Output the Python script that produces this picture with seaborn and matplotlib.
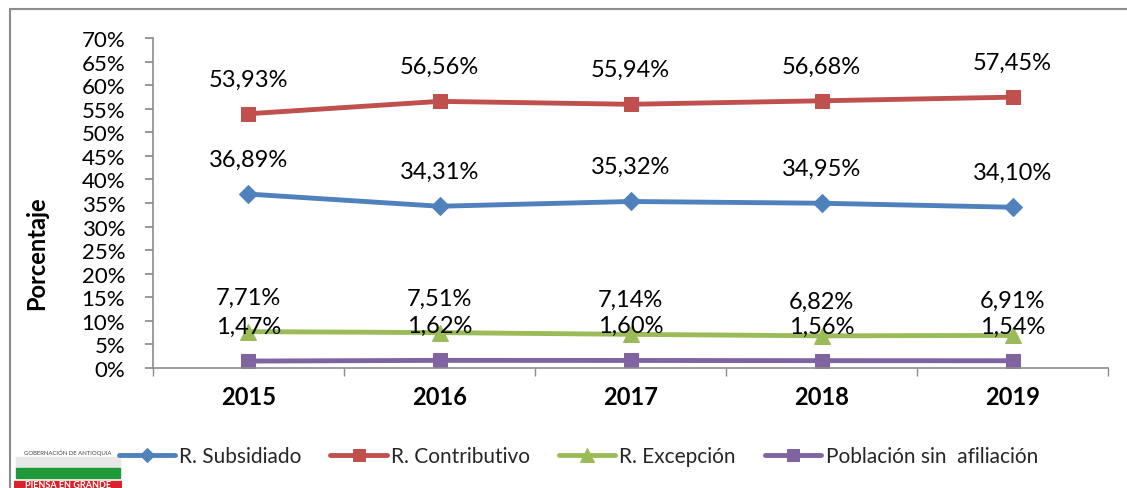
import matplotlib
matplotlib.use("Agg")
import matplotlib.pyplot as plt
import seaborn as sns
import numpy as np
from matplotlib.patches import Rectangle
from matplotlib.ticker import PercentFormatter, FixedLocator

years = ["2015", "2016", "2017", "2018", "2019"]
subsidiado = [36.89, 34.31, 35.32, 34.95, 34.10]
contributivo = [53.93, 56.56, 55.94, 56.68, 57.45]
excepcion = [7.71, 7.51, 7.14, 6.82, 6.91]
sin_afiliacion = [1.47, 1.62, 1.60, 1.56, 1.54]

series = [
    ("R. Subsidiado", subsidiado, "#4F81BD", "D", 9),
    ("R. Contributivo", contributivo, "#C0504D", "s", 10),
    ("R. Excepción", excepcion, "#9BBB59", "^", 12),
    ("Población sin  afiliación", sin_afiliacion, "#8064A2", "s", 10),
]

sns.set_theme(style="white")
fam = ["Lato", "DejaVu Sans"]
plt.rcParams["font.family"] = fam

fig = plt.figure(figsize=(11.27, 4.89), dpi=100)
ax = fig.add_axes([153 / 1127, 1 - 369 / 489, (1108 - 153) / 1127, 330 / 489])

pos = np.arange(len(years))
for name, vals, col, mk, ms in series:
    sns.lineplot(x=pos, y=vals, ax=ax, color=col, marker=mk, markersize=ms,
                 markeredgecolor=col, linewidth=3.5, label=name)
    for x, v in zip(pos, vals):
        ax.annotate(f"{v:.2f}%".replace(".", ","), (x, v), xytext=(0, 25),
                    textcoords="offset points", ha="center", va="center",
                    fontsize=17, color="black", family=fam)

ax.set_xlim(-0.5, 4.5)
ax.set_ylim(0, 70)
ax.set_yticks(np.arange(0, 71, 5))
ax.yaxis.set_major_formatter(PercentFormatter(decimals=0))
ax.set_xticks(pos)
ax.set_xticklabels(years, fontweight="bold", fontsize=17)
ax.xaxis.set_minor_locator(FixedLocator(np.arange(-0.5, 4.6, 1)))
ax.tick_params(axis="x", which="major", length=0, pad=12)
ax.tick_params(axis="x", which="minor", length=6, color="#8C8C8C", direction="out", bottom=True)
ax.tick_params(axis="y", length=6, color="#8C8C8C", direction="out", left=True,
               labelsize=16, pad=14)
for lab in ax.get_yticklabels() + ax.get_xticklabels():
    lab.set_color("black")

for s in ["top", "right"]:
    ax.spines[s].set_visible(False)
for s in ["left", "bottom"]:
    ax.spines[s].set_color("#8C8C8C")
    ax.spines[s].set_linewidth(1.2)

ax.set_ylabel("Porcentaje", fontweight="bold", fontsize=17, color="black")
ax.yaxis.set_label_coords(-0.11, 0.35)
ax.set_xlabel("")

handles, labels = ax.get_legend_handles_labels()
ax.get_legend().remove()
fig.legend(handles, labels, loc="center", bbox_to_anchor=(0.513, 0.065), ncol=4,
           frameon=False, prop={"family": fam, "size": 15}, handlelength=2.7,
           columnspacing=1.4, handletextpad=0.2, markerscale=0.8)

# outer frame
fig.patches.append(Rectangle((10 / 1127, -0.1), 1.2, 1 - 10 / 489 + 0.1,
                             transform=fig.transFigure, fill=False,
                             edgecolor="#8C8C8C", linewidth=1.5))

# logo
lax = fig.add_axes([14 / 1127, 0, 108 / 1127, 42 / 489])
lax.set_xlim(0, 108)
lax.set_ylim(0, 42)
lax.axis("off")
lax.text(54, 36, "GOBERNACIÓN DE ANTIOQUIA", fontsize=4.3, ha="center", va="center",
         color="#444444", family=fam)
lax.add_patch(Rectangle((2, 20), 104, 11, color="#E8E8E8"))
lax.add_patch(Rectangle((2, 10), 104, 10, color="#1E9A3A"))
lax.add_patch(Rectangle((0, 0), 108, 7, color="#D8232A"))
lax.text(54, 3, "PIENSA EN GRANDE", fontsize=6.5, ha="center", va="center", color="white",
         fontweight="bold", family=fam)

fig.savefig("out.png", dpi=100)
